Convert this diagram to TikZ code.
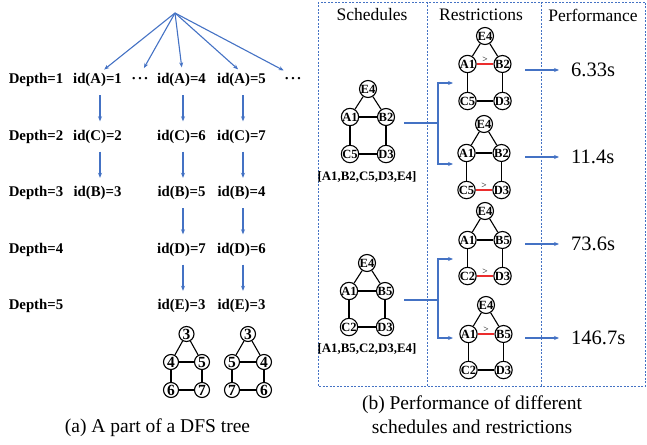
\documentclass[tikz,border=0pt]{standalone}
\usepackage{fontspec}
\setmainfont{Liberation Serif}
\usepackage{xcolor}
\usepackage{tikz}
\usetikzlibrary{arrows.meta,positioning}
\definecolor{lineblue}{RGB}{68,114,196}
\definecolor{restred}{RGB}{235,45,45}

\begin{document}
\begin{tikzpicture}[x=1pt,y=-1pt,node distance=56.5pt,on grid,
  lab/.style={font=\fontsize{14.8}{16}\selectfont\bfseries,inner sep=0pt,text height=10pt,text depth=3pt},
  dfsv/.style={circle,draw,line width=1.1pt,inner sep=0pt,minimum size=15pt,font=\fontsize{15.5}{15}\selectfont\bfseries},
  qv/.style={circle,draw,line width=1.1pt,inner sep=0pt,minimum size=17pt,font=\fontsize{12.5}{12}\selectfont\bfseries},
  arr/.style={-{Stealth[length=5pt,width=4pt]},draw=lineblue,line width=1.1pt},
  redge/.style={draw=restred,line width=1.6pt},
  gt/.style={above,inner sep=1pt,font=\fontsize{9.5}{9}\selectfont},
  frame/.style={draw=lineblue,line width=0.9pt,dash pattern=on 2pt off 1.5pt},
  head/.style={font=\fontsize{17.5}{18}\selectfont},
  perf/.style={anchor=west,inner sep=0pt,font=\fontsize{20.5}{21}\selectfont},
  every edge/.append style={line width=1.1pt}]
\useasboundingbox (0,0) rectangle (647,444);

% (a) DFS tree
\coordinate (root) at (175,13);
\node[lab] (dep1) at (36,80) {Depth=1};
\node[lab] (dep2) [below=of dep1] {Depth=2};
\node[lab] (dep3) [below=of dep2] {Depth=3};
\node[lab] (dep4) [below=of dep3] {Depth=4};
\node[lab] (dep5) [below=of dep4] {Depth=5};

\node[lab] (a1) at (97.5,80) {id(A)=1};
\node[lab] (dt1) at (140,80) {·\kern1.2pt·\kern1.2pt·};
\node[lab] (a4) at (181.5,80) {id(A)=4};
\node[lab] (a5) at (241.5,80) {id(A)=5};
\node[lab] (dt2) at (293,80) {·\kern1.2pt·\kern1.2pt·};

\node[lab] (c2) [below=of a1] {id(C)=2};
\node[lab] (b3) [below=of c2] {id(B)=3};
\node[lab] (c6) [below=of a4] {id(C)=6};
\node[lab] (b5) [below=of c6] {id(B)=5};
\node[lab] (d7) [below=of b5] {id(D)=7};
\node[lab] (e3a) [below=of d7] {id(E)=3};
\node[lab] (c7) [below=of a5] {id(C)=7};
\node[lab] (b4) [below=of c7] {id(B)=4};
\node[lab] (d6) [below=of b4] {id(D)=6};
\node[lab] (e3b) [below=of d6] {id(E)=3};

\draw[arr,shorten >=6pt] (root) -- ([xshift=2pt]a1.north);
\draw[arr,shorten >=6pt] (root) -- ([xshift=1pt]dt1.north);
\draw[arr,shorten >=6pt] (root) -- ([xshift=1pt]a4.north);
\draw[arr,shorten >=6pt] (root) -- ([xshift=1pt]a5.north);
\draw[arr,shorten >=6pt] (root) -- ([xshift=-4pt]dt2.north);

\draw[arr,shorten <=8.5pt,shorten >=8.5pt] ([xshift=2.5pt]a1.south) -- ([xshift=2.5pt]c2.north);
\draw[arr,shorten <=8.5pt,shorten >=8.5pt] ([xshift=2.5pt]c2.south) -- ([xshift=2.5pt]b3.north);
\draw[arr,shorten <=8.5pt,shorten >=8.5pt] ([xshift=1.5pt]a4.south) -- ([xshift=1.5pt]c6.north);
\draw[arr,shorten <=8.5pt,shorten >=8.5pt] ([xshift=1.5pt]c6.south) -- ([xshift=1.5pt]b5.north);
\draw[arr,shorten <=8.5pt,shorten >=8.5pt] ([xshift=1.5pt]b5.south) -- ([xshift=1.5pt]d7.north);
\draw[arr,shorten <=8.5pt,shorten >=8.5pt] ([xshift=1.5pt]d7.south) -- ([xshift=1.5pt]e3a.north);
\draw[arr,shorten <=8.5pt,shorten >=8.5pt] ([xshift=1.5pt]a5.south) -- ([xshift=1.5pt]c7.north);
\draw[arr,shorten <=8.5pt,shorten >=8.5pt] ([xshift=1.5pt]c7.south) -- ([xshift=1.5pt]b4.north);
\draw[arr,shorten <=8.5pt,shorten >=8.5pt] ([xshift=1.5pt]b4.south) -- ([xshift=1.5pt]d6.north);
\draw[arr,shorten <=8.5pt,shorten >=8.5pt] ([xshift=1.5pt]d6.south) -- ([xshift=1.5pt]e3b.north);

% the two query graphs under the tree
\node[dfsv] (g3) at (186.5,334) {3};
\node[dfsv] (g4) at (171,362) {4};
\node[dfsv] (g5) at (202,362) {5};
\node[dfsv] (g6) at (171,390) {6};
\node[dfsv] (g7) at (202,390) {7};
\path (g3) edge (g4) edge (g5) (g4) edge (g5) edge (g6) (g5) edge (g7) (g6) edge (g7);

\node[dfsv] (h3) at (248,334) {3};
\node[dfsv] (h5) at (232,362) {5};
\node[dfsv] (h4) at (264,362) {4};
\node[dfsv] (h7) at (232,390) {7};
\node[dfsv] (h6) at (264,390) {6};
\path (h3) edge (h5) edge (h4) (h5) edge (h4) edge (h7) (h4) edge (h6) (h7) edge (h6);

\node[font=\fontsize{19.5}{20}\selectfont] (capa) at (157.5,428) {(a) A part of a DFS tree};

% (b) frame
\draw[frame] (318,2) rectangle (645,386);
\draw[frame] (427,2) -- (427,386);
\draw[frame] (541,2) -- (541,386);
\node[head] (hs) at (372,15) {Schedules};
\node[head] (hr) at (481,15) {Restrictions};
\node[head] (hp) at (593,15) {Performance};

% schedules
\node[qv] (se1) at (368,89) {E4};
\node[qv] (sa1) [below left=28pt and 18pt of se1] {A1};
\node[qv] (sb1) [right=36pt of sa1] {B2};
\node[qv] (sc1) [below=37pt of sa1] {C5};
\node[qv] (sd1) [below=37pt of sb1] {D3};
\path (se1) edge (sa1) edge (sb1) (sa1) edge (sb1) edge (sc1) (sb1) edge (sd1) (sc1) edge (sd1);
\node[font=\fontsize{12.9}{13}\selectfont\bfseries] (sl1) at (367,177) {[A1,B2,C5,D3,E4]};

\node[qv] (se2) at (367,263) {E4};
\node[qv] (sa2) [below left=28pt and 18pt of se2] {A1};
\node[qv] (sb2) [right=36pt of sa2] {B5};
\node[qv] (sc2) [below=36pt of sa2] {C2};
\node[qv] (sd2) [below=36pt of sb2] {D3};
\path (se2) edge (sa2) edge (sb2) (sa2) edge (sb2) edge (sc2) (sb2) edge (sd2) (sc2) edge (sd2);
\node[font=\fontsize{12.9}{13}\selectfont\bfseries] (sl2) at (367,349) {[A1,B5,C2,D3,E4]};

% restrictions
\node[qv] (re1) at (485,36) {E4};
\node[qv] (ra1) [below left=28pt and 17.5pt of re1] {A1};
\node[qv] (rb1) [right=35pt of ra1] {B2};
\node[qv] (rc1) [below=37pt of ra1] {C5};
\node[qv] (rd1) [below=37pt of rb1] {D3};
\path (re1) edge (ra1) edge (rb1) (ra1) edge (rc1) (rb1) edge (rd1) (rc1) edge (rd1);
\path (ra1) edge[redge] node[gt] {>} (rb1);

\node[qv] (re2) at (484,124) {E4};
\node[qv] (ra2) [below left=29pt and 17.5pt of re2] {A1};
\node[qv] (rb2) [right=35pt of ra2] {B2};
\node[qv] (rc2) [below=37pt of ra2] {C5};
\node[qv] (rd2) [below=37pt of rb2] {D3};
\path (re2) edge (ra2) edge (rb2) (ra2) edge (rb2) edge (rc2) (rb2) edge (rd2);
\path (rc2) edge[redge] node[gt] {>} (rd2);

\node[qv] (re3) at (485,211) {E4};
\node[qv] (ra3) [below left=29pt and 17.5pt of re3] {A1};
\node[qv] (rb3) [right=35pt of ra3] {B5};
\node[qv] (rc3) [below=36pt of ra3] {C2};
\node[qv] (rd3) [below=36pt of rb3] {D3};
\path (re3) edge (ra3) edge (rb3) (ra3) edge (rb3) edge (rc3) (rb3) edge (rd3);
\path (rc3) edge[redge] node[gt] {>} (rd3);

\node[qv] (re4) at (486,305) {E4};
\node[qv] (ra4) [below left=29pt and 17.5pt of re4] {A1};
\node[qv] (rb4) [right=35pt of ra4] {B5};
\node[qv] (rc4) [below=36pt of ra4] {C2};
\node[qv] (rd4) [below=36pt of rb4] {D3};
\path (re4) edge (ra4) edge (rb4) (ra4) edge (rc4) (rb4) edge (rd4) (rc4) edge (rd4);
\path (ra4) edge[redge] node[gt] {>} (rb4);

% schedule -> restrictions
\coordinate (j1s) at (404,123);
\coordinate (j1) at (438,123);
\coordinate (j1u) at (453,83);
\coordinate (j1d) at (453,164);
\draw[arr] (j1s) -- (j1) |- (j1u);
\draw[arr] (j1) |- (j1d);

\coordinate (j2s) at (404,300);
\coordinate (j2) at (438,300);
\coordinate (j2u) at (453,259);
\coordinate (j2d) at (453,338);
\draw[arr] (j2s) -- (j2) |- (j2u);
\draw[arr] (j2) |- (j2d);

% performance
\node[perf] (t1) at (571,70) {6.33s};
\node[perf] (t2) at (571,157) {11.4s};
\node[perf] (t3) at (571,244) {73.6s};
\node[perf] (t4) at (571,338) {146.7s};
\coordinate (p1) at (525,70);
\coordinate (p2) at (525,157);
\coordinate (p3) at (525,244);
\coordinate (p4) at (525,338);
\draw[arr,shorten >=12pt] (p1) -- (t1.west);
\draw[arr,shorten >=12pt] (p2) -- (t2.west);
\draw[arr,shorten >=12pt] (p3) -- (t3.west);
\draw[arr,shorten >=12pt] (p4) -- (t4.west);

\node[font=\fontsize{19.5}{24}\selectfont,align=center] (capb) at (472,415) {(b) Performance of different\\schedules and restrictions};
\end{tikzpicture}
\end{document}
